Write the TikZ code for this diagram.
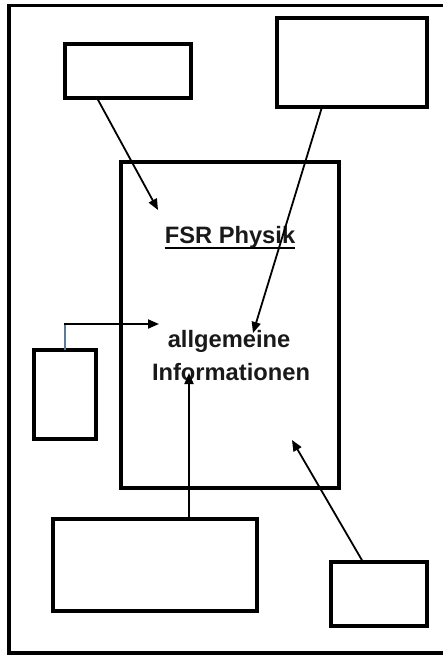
\documentclass[tikz,border=0pt]{standalone}
\usepackage{fontspec}
\setmainfont{Liberation Sans}
\usetikzlibrary{arrows.meta,calc}
\definecolor{linkblue}{HTML}{5A7A9A}
\begin{document}
\begin{tikzpicture}[x=1pt,y=-1pt,
  box/.style={draw=black,line width=3.6pt,inner sep=0pt,outer sep=0pt,fill=white},
  conn/.style={line width=1.8pt,-{Triangle[length=11pt,width=9pt]}},
  lbl/.style={inner sep=0pt,anchor=base,font=\fontsize{23.7}{28}\selectfont\bfseries,text=black!90}]
\useasboundingbox (0,0) rectangle (443,655);
\clip (0,0) rectangle (443,655);
\fill[white] (0,0) rectangle (443,655);
% outer frame (right side beyond the page)
\draw[line width=3.3pt] (470,5.5) -- (9,5.5) -- (9,653) -- (470,653);
% boxes
\node[box,minimum width=126pt,minimum height=54pt] (A) at (128,71) {};
\node[box,minimum width=150pt,minimum height=89pt] (B) at (352,62.5) {};
\node[box,minimum width=218pt,minimum height=326pt] (M) at (230,325) {};
\node[box,minimum width=62pt,minimum height=89pt] (L) at (65,394.5) {};
\node[box,minimum width=204pt,minimum height=92pt] (C) at (155,565) {};
\node[box,minimum width=96pt,minimum height=64pt] (D) at (379,594) {};
% texts
\node[lbl] (title) at (230,243) {FSR Physik};
\draw[line width=2pt] ([yshift=-5pt]title.base west) -- ([yshift=-5pt]title.base east);
\node[lbl] (info1) at (229,347) {allgemeine};
\node[lbl] (info2) at (231,380) {Informationen};
% arrow targets
\coordinate (tA) at (158,210);
\coordinate (tB) at (253,333);
\coordinate (bendL) at (65,324);
\coordinate (tL) at (159,324);
\coordinate (tC) at (189,373);
\coordinate (tD) at (292,440);
% connectors
\draw[conn] ([xshift=-31pt]A.south) -- (tA);
\draw[conn] ([xshift=-30pt]B.south) -- (tB);
\draw[line width=1.8pt,linkblue] (L.north) -- (bendL);
\draw[conn] ([xshift=-0.9pt]bendL) -- (tL);
\draw[conn] ([xshift=34pt]C.north) -- (tC);
\draw[conn] ([xshift=-16pt]D.north) -- (tD);
\end{tikzpicture}
\end{document}
